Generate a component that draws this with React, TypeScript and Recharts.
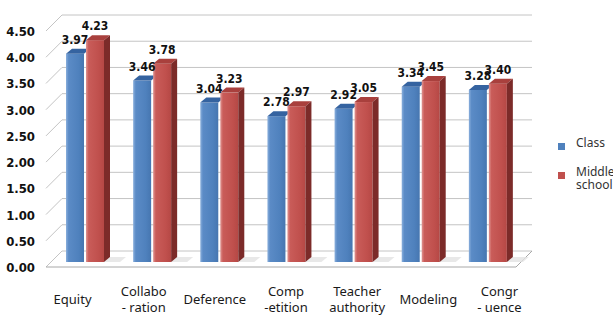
import { BarChart, Bar, XAxis, YAxis, CartesianGrid, LabelList, Legend } from "recharts";

const categories = [
  "Equity",
  "Collabo\n- ration",
  "Deference",
  "Comp\n-etition",
  "Teacher\nauthority",
  "Modeling",
  "Congr\n- uence",
];
const classScores = [3.97, 3.46, 3.04, 2.78, 2.92, 3.34, 3.28];
const schoolScores = [4.23, 3.78, 3.23, 2.97, 3.05, 3.45, 3.4];
const yTicks = [0, 0.5, 1, 1.5, 2, 2.5, 3, 3.5, 4, 4.5];
const seriesNames = ["Class", "Middle\nschool"];

const data = categories.map((name, i) => ({
  name,
  cls: classScores[i],
  school: schoolScores[i],
}));

// fake 3d: the bars stand a bit behind the front edge of the floor
const BACK = 11; // bar plane -> back wall (x and y)
const FRONT = 5; // bar plane -> front edge (x and y)
const BDX = 6; // bar depth
const BDY = 5;
const GRID = "#c4c4c4";
const NUM_FONT = "'DejaVu Sans Condensed', 'DejaVu Sans', sans-serif";
const TEXT_FONT = "'Noto Sans', sans-serif";

const BLUE = { front: "url(#blueFront)", top: "#3563a0", side: "#2d5384" };
const RED = { front: "url(#redFront)", top: "#a9403d", side: "#7c2b29" };

function gridLine(p: any) {
  const { x1, x2, y1 } = p;
  const bottom =
    typeof p.y === "number" && typeof p.height === "number" ? p.y + p.height : null;
  const isFloor = bottom != null ? Math.abs(y1 - bottom) < 0.5 : p.index === 0;
  return (
    <g key={p.key ?? `g-${p.index}`}>
      <line x1={x1 + BACK} y1={y1 - BACK} x2={x2 + BACK} y2={y1 - BACK} stroke={GRID} />
      <line x1={x1 - FRONT} y1={y1 + FRONT} x2={x1 + BACK} y2={y1 - BACK} stroke={GRID} />
      {isFloor && (
        <>
          <line x1={x1 - FRONT} y1={y1 + FRONT} x2={x2 - FRONT} y2={y1 + FRONT} stroke="#a8a8a8" />
          <line x1={x2 - FRONT} y1={y1 + FRONT} x2={x2 + BACK} y2={y1 - BACK} stroke="#a8a8a8" />
        </>
      )}
    </g>
  );
}

function makeBar(c: { front: string; top: string; side: string }, withSide: boolean) {
  return (p: any) => {
    const { x, y, width: w, height: h } = p;
    if (!h) return <g />;
    return (
      <g>
        {withSide && (
          <polygon
            points={`${x + w},${y + h} ${x + w + BDX},${y + h - BDY} ${x + w + 22},${y + h - BDY} ${x + w + 16},${y + h}`}
            fill="#e2e2e2"
            opacity={0.8}
          />
        )}
        <rect x={x} y={y} width={w} height={h} fill={c.front} />
        <polygon
          points={`${x},${y} ${x + BDX},${y - BDY} ${x + w + BDX},${y - BDY} ${x + w},${y}`}
          fill={c.top}
        />
        {withSide && (
          <polygon
            points={`${x + w},${y} ${x + w + BDX},${y - BDY} ${x + w + BDX},${y + h - BDY} ${x + w},${y + h}`}
            fill={c.side}
          />
        )}
      </g>
    );
  };
}

function valueLabel(p: any) {
  const vb = p.viewBox ?? p;
  const x = vb.x ?? p.x;
  const y = vb.y ?? p.y;
  const w = vb.width ?? p.width;
  return (
    <text
      x={x + w / 2}
      y={y - 10}
      textAnchor="middle"
      fontFamily={NUM_FONT}
      fontWeight="bold"
      fontSize={12}
      fill="#111"
    >
      {Number(p.value).toFixed(2)}
    </text>
  );
}

function YTick(p: any) {
  return (
    <text
      x={p.x - 16}
      y={p.y + 10}
      textAnchor="end"
      fontFamily={NUM_FONT}
      fontWeight="bold"
      fontSize={13}
      fill="#111"
    >
      {Number(p.payload.value).toFixed(2)}
    </text>
  );
}

function XTick(p: any) {
  const lines = String(p.payload.value).split("\n");
  const x = p.x + ((p.index ?? 0) - 3) * 4;
  const base = lines.length === 1 ? p.y + 42 : p.y + 34;
  return (
    <g>
      {lines.map((l, i) => (
        <text
          key={i}
          x={x}
          y={base + i * 16}
          textAnchor="middle"
          fontFamily={TEXT_FONT}
          fontSize={13}
          fill="#1a1a1a"
        >
          {l}
        </text>
      ))}
    </g>
  );
}

function LegendBox() {
  const colors = ["#4f81bd", "#c0504d"];
  return (
    <div style={{ position: "relative", width: 60, height: 60, fontFamily: TEXT_FONT, fontSize: 12, color: "#333" }}>
      {seriesNames.map((n, i) => (
        <div key={n}>
          <div
            style={{
              position: "absolute",
              left: 3,
              top: i === 0 ? 7 : 36,
              width: 7,
              height: 7,
              background: colors[i],
            }}
          />
          <div
            style={{
              position: "absolute",
              left: 21,
              top: i === 0 ? 0 : 29,
              lineHeight: "13px",
              whiteSpace: "pre",
            }}
          >
            {n}
          </div>
        </div>
      ))}
    </div>
  );
}

export default function App() {
  return (
    <div style={{ position: "absolute", left: 0, top: 0, width: 613, height: 320, background: "#fff" }}>
      <BarChart
        width={613}
        height={320}
        data={data}
        margin={{ top: 26, right: 92, bottom: 0, left: 0 }}
        barSize={18}
        barGap={2}
      >
        <defs>
          <linearGradient id="blueFront" x1="0" y1="0" x2="1" y2="0">
            <stop offset="0" stopColor="#8aafdc" />
            <stop offset="0.15" stopColor="#5b8bc6" />
            <stop offset="0.7" stopColor="#4f81bd" />
            <stop offset="1" stopColor="#4676b0" />
          </linearGradient>
          <linearGradient id="redFront" x1="0" y1="0" x2="1" y2="0">
            <stop offset="0" stopColor="#e09491" />
            <stop offset="0.15" stopColor="#c95c59" />
            <stop offset="0.7" stopColor="#c0504d" />
            <stop offset="1" stopColor="#b54845" />
          </linearGradient>
        </defs>
        <CartesianGrid vertical={false} horizontal={gridLine} />
        <XAxis
          dataKey="name"
          interval={0}
          axisLine={false}
          tickLine={false}
          tickSize={0}
          tickMargin={0}
          height={58}
          tick={XTick}
        />
        <YAxis
          domain={[0, 4.5]}
          ticks={yTicks}
          axisLine={false}
          tickLine={false}
          tickSize={0}
          tickMargin={0}
          width={51}
          tick={YTick}
        />
        <Legend
          layout="vertical"
          align="center"
          verticalAlign="middle"
          wrapperStyle={{ left: 555, top: 136, width: 60 }}
          content={LegendBox}
        />
        <Bar dataKey="cls" name="Class" shape={makeBar(BLUE, false)} isAnimationActive={false}>
          <LabelList dataKey="cls" content={valueLabel} />
        </Bar>
        <Bar dataKey="school" name="Middle school" shape={makeBar(RED, true)} isAnimationActive={false}>
          <LabelList dataKey="school" content={valueLabel} />
        </Bar>
      </BarChart>
    </div>
  );
}
